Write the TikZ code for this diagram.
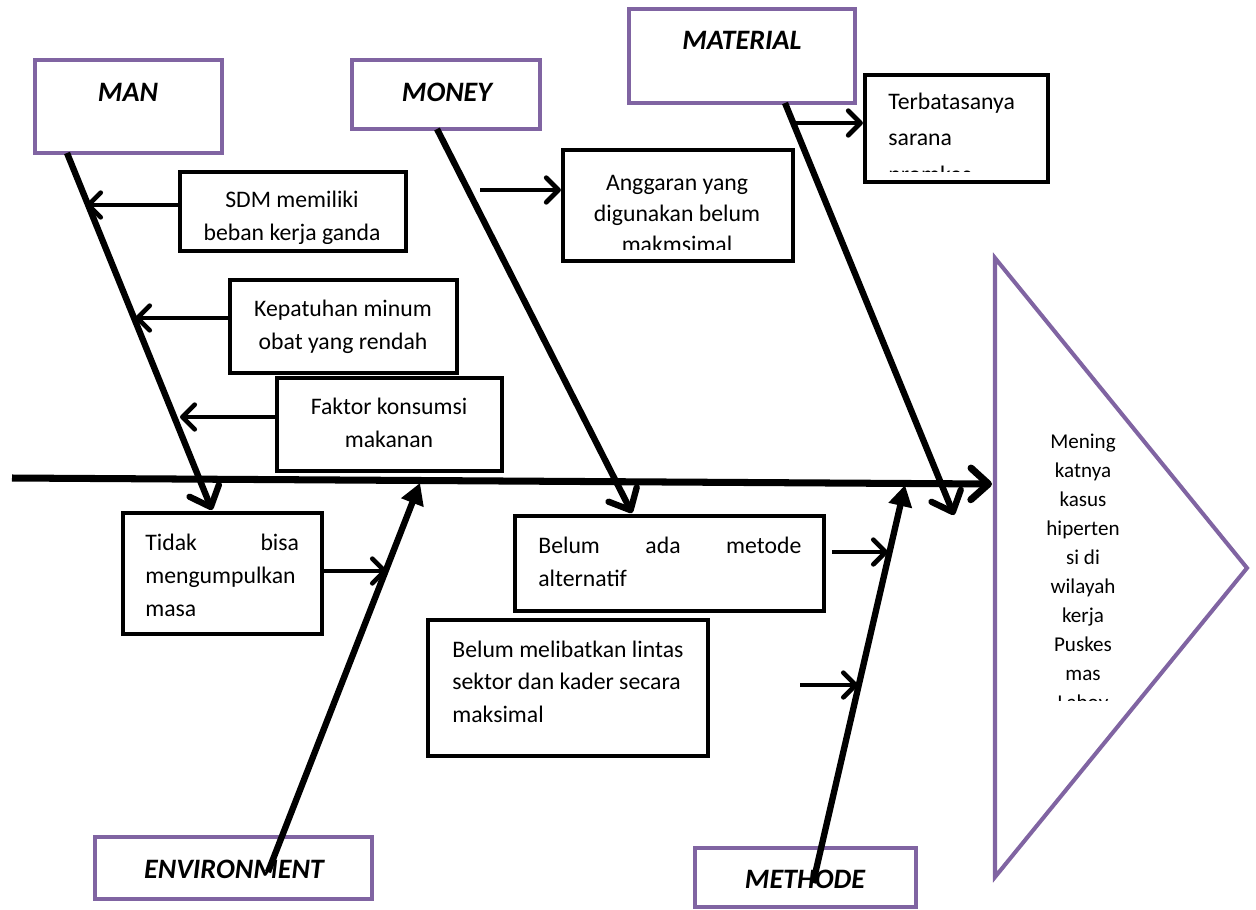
\documentclass[tikz,border=0pt]{standalone}
\usepackage{fontspec}
\setmainfont{Carlito}
\usepackage{xcolor}
\definecolor{fishpurple}{HTML}{8064A2}
\usetikzlibrary{arrows.meta, fit}

\begin{document}
\begin{tikzpicture}[x=0.02cm, y=-0.02cm,
  cat/.style={draw=fishpurple, line width=2.5pt, inner sep=0pt},
  cause/.style={draw, line width=2.4pt, inner sep=0pt},
  head/.style={font=\fontsize{16}{19}\selectfont\bfseries\itshape, inner sep=0pt, anchor=base},
  txt/.style={font=\fontsize{13.5}{18.5}\selectfont, inner sep=0pt, align=center, anchor=base},
  bone/.style={line width=3.6pt, -{Straight Barb[length=10pt,width=18pt,round]}},
  solidbone/.style={line width=3.6pt, -{Triangle[length=12pt,width=13pt]}},
  twig/.style={line width=2.7pt, -{Straight Barb[length=7pt,width=14pt,round]}}]
\useasboundingbox (0,0) rectangle (1256,909);

% category boxes
\node (man) [cat, fit={(35,60) (222,153)}] {};
\node (money) [cat, fit={(352,60) (540,129)}] {};
\node (material) [cat, fit={(629,9) (855,103)}] {};
\node (env) [cat, fit={(95,837) (372,899)}] {};
\node (metode) [cat, fit={(695,848) (916,907)}] {};
\node (manlbl) [head] at (128,101) {MAN};
\node (moneylbl) [head] at (447,101) {MONEY};
\node (matlbl) [head] at (742,50) {MATERIAL};
\node (envlbl) [head] at (234,878) {ENVIRONMENT};
\node (metlbl) [head] at (805,888) {METHODE};

% cause boxes (centred text sits on its last baseline, text width on its first)
\node (sdm) [cause, fit={(180,172) (406,251)}] {};
\node (kepatuhan) [cause, fit={(230,280) (457,373)}] {};
\node (faktor) [cause, fit={(277,378) (502,471)}] {};
\node (anggaran) [cause, fit={(563,150) (793,261)}] {};
\node (terbatas) [cause, fit={(865,75) (1048,182)}] {};
\node (tidak) [cause, fit={(123,513) (322,634)}] {};
\node (belumada) [cause, fit={(515,516) (824,611)}] {};
\node (lintas) [cause, fit={(428,620) (708,756)}] {};

\begin{scope}
\clip (180,172) rectangle (406,243);
\node (sdmtxt) [txt] at (292,240) {SDM memiliki\\beban kerja ganda};
\end{scope}
\node (kepatxt) [txt] at (343,349) {Kepatuhan minum\\obat yang rendah};
\node (faktxt) [txt] at (389,447) {Faktor konsumsi\\makanan};
\begin{scope}
\clip (563,150) rectangle (793,249);
\node (anggtxt) [txt, font=\fontsize{13.5}{17.5}\selectfont] at (677,252) {Anggaran yang\\digunakan belum\\makmsimal};
\end{scope}
\begin{scope}
\clip (865,75) rectangle (1048,171);
\node (terbtxt) [txt, font=\fontsize{13.5}{20.5}\selectfont, align=left, anchor=base west] at (888,182) {Terbatasanya\\sarana\\promkes};
\end{scope}
\node (tidaktxt) [txt, font=\fontsize{13.5}{19}\selectfont, text width=87.5pt, align=left, anchor=base west] at (145,550) {Tidak\hfill bisa\\mengumpulkan\\masa};
\node (adatxt) [txt, font=\fontsize{13.5}{19}\selectfont, text width=149.7pt, align=left, anchor=base west] at (538,553) {Belum\hfill ada\hfill metode\\alternatif};
\node (lintastxt) [txt, align=left, anchor=base west] at (452,722) {Belum melibatkan lintas\\sektor dan kader secara\\maksimal};

% effect
\coordinate (efftop) at (995,258);
\coordinate (effbot) at (995,877);
\coordinate (efftip) at (1247,568);
\draw [fishpurple, line width=2.3pt, line join=miter] (efftop) -- (efftip) -- (effbot) -- cycle;
\begin{scope}
\clip (995,258) rectangle (1247,700);
\node (effect) [txt, font=\fontsize{12}{16.5}\selectfont] at (1083,709) {Mening\\katnya\\kasus\\hiperten\\si di\\wilayah\\kerja\\Puskes\\mas\\Laboy};
\end{scope}

% spine and bones
\coordinate (spinetail) at (12,478);
\coordinate (spinehead) at (992,484);
\coordinate (manroot) at (67,153);
\coordinate (manhead) at (212,510);
\coordinate (moneyroot) at (437,129);
\coordinate (moneyhead) at (632,513);
\coordinate (matroot) at (785,103);
\coordinate (mathead) at (954,515);
\coordinate (envroot) at (268,872);
\coordinate (envhead) at (420,483);
\coordinate (metroot) at (813,883);
\coordinate (methead) at (905,485);
\draw [bone, line width=4pt] (spinetail) -- (spinehead);
\draw [bone] (manroot) -- (manhead);
\draw [bone] (moneyroot) -- (moneyhead);
\draw [bone] (matroot) -- (mathead);
\draw [solidbone] (envroot) -- (envhead);
\draw [solidbone] (metroot) -- (methead);

% twigs
\coordinate (sdmtip) at (86,205);
\coordinate (kepatip) at (135,318);
\coordinate (faktip) at (180,417);
\coordinate (anggtail) at (480,190);
\coordinate (terbtail) at (795,123);
\coordinate (tidaktip) at (387,571);
\coordinate (adatail) at (832,552);
\coordinate (adatip) at (888,552);
\coordinate (lintastail) at (800,685);
\coordinate (lintastip) at (858,685);
\draw [twig] (sdm.west |- sdmtip) -- (sdmtip);
\draw [twig] (kepatuhan.west |- kepatip) -- (kepatip);
\draw [twig] (faktor.west |- faktip) -- (faktip);
\draw [twig] (anggtail) -- (anggaran.west |- anggtail);
\draw [twig] (terbtail) -- (terbatas.west |- terbtail);
\draw [twig] (tidak.east |- tidaktip) -- (tidaktip);
\draw [twig] (adatail) -- (adatip);
\draw [twig] (lintastail) -- (lintastip);
\end{tikzpicture}
\end{document}
